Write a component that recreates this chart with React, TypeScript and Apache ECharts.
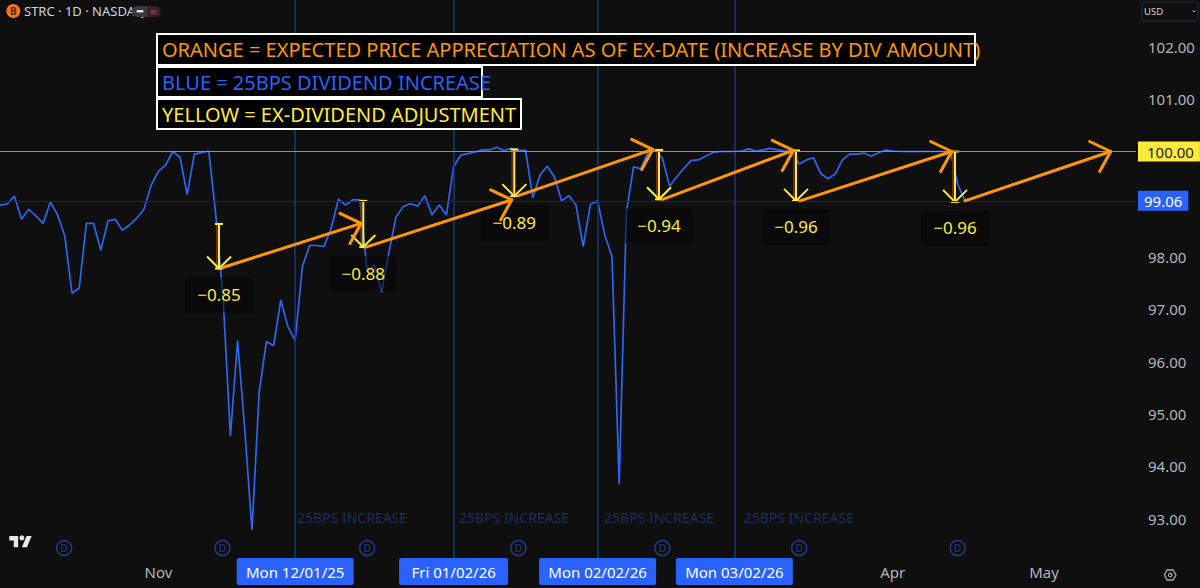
import React, { useEffect, useRef } from "react";
import * as echarts from "echarts";

const FONT = '"Noto Sans", sans-serif';

const priceValues = [
  98.98, 99.0, 99.15, 98.71, 98.9, 98.77, 98.63, 99.04, 98.79, 98.39,
  97.3, 97.4, 98.63, 98.63, 98.12, 98.68, 98.71, 98.5, 98.6, 98.73,
  98.9, 99.36, 99.62, 99.74, 100.0, 99.89, 99.18, 99.95, 99.98, 100.01,
  98.76, 97.17, 94.58, 96.4, 94.7, 92.79, 95.42, 96.38, 96.3, 97.17,
  96.66, 96.4, 97.81, 98.21, 98.21, 98.19, 98.54, 99.09, 98.98, 99.08,
  99.08, 97.71, 97.84, 97.32, 98.06, 98.75, 98.95, 99.01, 98.96, 99.16,
  98.79, 98.98, 98.79, 99.71, 99.93, 99.96, 99.99, 100.03, 100.03, 100.08,
  100.02, 100.06, 100.02, 100.02, 99.12, 99.55, 99.72, 99.52, 99.06, 99.16,
  98.98, 98.19, 98.99, 99.06, 98.41, 98.0, 93.66, 98.85, 99.71, 99.67,
  99.98, 100.04, 99.87, 99.34, 99.52, 99.68, 99.83, 99.84, 99.91, 99.98,
  100.0, 100.0, 100.0, 100.01, 100.05, 100.01, 100.03, 100.06, 100.03, 100.01,
  100.01, 99.76, 99.84, 99.88, 99.58, 99.48, 99.57, 99.84, 99.95, 99.95,
  99.97, 99.91, 99.97, 100.03, 100.01, 100.0, 100.0, 100.0, 100.0, 100.0,
  100.0, 100.0, 100.0, 99.39, 99.06,
];

const priceTicks = [102, 101, 99, 98, 97, 96, 95, 94, 93];
const timeTickIndex = [22, 41, 63, 83, 102, 124, 145];
const timeTickLabels = ["Nov", "Mon 12/01/25", "Fri 01/02/26", "Mon 02/02/26", "Mon 03/02/26", "Apr", "May"];
const increaseIndex = [41, 63, 83, 102];
const increaseNoteIndex = [41.25, 63.75, 83.9, 103.3];
const dividendIndex = [8.9, 30.9, 51, 72, 92, 111, 133];

const exIndex = [30.42, 50.46, 71.43, 91.53, 110.56, 132.64];
const exTop = [98.62, 99.06, 100.04, 100.03, 100.02, 100.0];
const exAmount = [0.85, 0.88, 0.89, 0.94, 0.96, 0.96];

const orangeStartIndex = [30.93, 50.83, 71.99, 92.04, 111.11, 134.03];
const orangeStartPrice = [97.79, 98.18, 99.16, 99.09, 99.06, 99.06];
const orangeEndIndex = [50.14, 71.07, 90.65, 110.18, 132.18, 154.26];
const orangeEndPrice = [98.63, 99.08, 100.04, 100.02, 100.0, 100.0];

const legendOrange = "ORANGE = EXPECTED PRICE APPRECIATION AS OF EX-DATE (INCREASE BY DIV AMOUNT)";
const legendBlue = "BLUE = 25BPS DIVIDEND INCREASE";
const legendYellow = "YELLOW = EX-DIVIDEND ADJUSTMENT";

const tvPath = "M14 22H7V11H0V4h14v18zM28 22h-8l7.5-18h8L28 22z";
echarts.graphic.registerShape("tvlogo", echarts.graphic.extendPath(tvPath, {}));

function legendBox(x: number, y: number, w: number, h: number, text: string, color: string) {
  return [
    { type: "rect", z: 50, shape: { x, y, width: w, height: h }, style: { fill: "#000", stroke: "#fff", lineWidth: 2 } },
    {
      type: "text", z: 51, x: x + 5, y: y + h / 2,
      style: { text, fill: color, font: `20px ${FONT}`, verticalAlign: "middle", align: "left" },
    },
  ];
}

export default function App() {
  const ref = useRef<HTMLDivElement>(null);
  useEffect(() => {
    document.body.style.margin = "0";
    document.body.style.background = "#0f0f0f";
    const chart = echarts.init(ref.current!, null, { renderer: "svg" });
    const yMin = 92.257;
    const yMax = 102.886;
    chart.setOption({
      animation: false,
      backgroundColor: "#0f0f0f",
      grid: { left: 0, top: 0, width: 1136, height: 558, containLabel: false },
      xAxis: {
        type: "value", min: 0, max: 157.78,
        axisLine: { show: false }, axisTick: { show: false }, splitLine: { show: false },
        axisLabel: {
          customValues: timeTickIndex,
          margin: 0,
          verticalAlign: "top",
          hideOverlap: false,
          fontFamily: FONT,
          formatter: (v: number) => {
            const t = timeTickLabels[timeTickIndex.indexOf(v)] ?? "";
            if (t.length <= 3) return `{m|${t}}`;
            return t.startsWith("Fri") ? `{f|${t}}` : `{h|${t}}`;
          },
          rich: {
            m: { color: "#b2b5be", fontSize: 15, fontFamily: FONT, height: 27, lineHeight: 27 },
            h: { color: "#fff", backgroundColor: "#2962ff", fontSize: 15, fontFamily: FONT, width: 117, height: 27, lineHeight: 27, align: "center", borderRadius: 2 },
            f: { color: "#fff", backgroundColor: "#2962ff", fontSize: 15, fontFamily: FONT, width: 109, height: 27, lineHeight: 27, align: "center", borderRadius: 2 },
          },
        },
      },
      yAxis: {
        type: "value", position: "right", min: yMin, max: yMax,
        axisLine: { show: false }, axisTick: { show: false }, splitLine: { show: false },
        axisLabel: {
          customValues: priceTicks, margin: 12, color: "#b2b5be", fontSize: 15, fontFamily: FONT,
          formatter: (v: number) => v.toFixed(2),
        },
      },
      series: [
        {
          type: "line", z: 3, symbol: "none", silent: true,
          data: priceValues.map((v, i) => [i, v]),
          lineStyle: { color: "#2e66f0", width: 1.7 },
          markLine: {
            silent: true, symbol: "none", animation: false,
            data: [
              ...increaseIndex.map((i) => ({
                xAxis: i, lineStyle: { color: "#1e3a7a", width: 1.5, type: "solid" }, label: { show: false },
              })),
              {
                yAxis: 99.06, lineStyle: { color: "#1a2747", width: 1, type: "solid" },
                label: {
                  show: true, position: "end", distance: 2, formatter: "99.06", color: "#fff", fontSize: 15,
                  fontFamily: FONT, backgroundColor: "#2962ff", padding: [3, 6, 2, 6],
                },
              },
              {
                yAxis: 100, lineStyle: { color: "#a19a32", width: 1, type: "solid" },
                label: {
                  show: true, position: "end", distance: 2, formatter: "100.00", color: "#131722", fontSize: 15,
                  fontFamily: FONT, backgroundColor: "#ffeb3b", padding: [3, 6, 2, 9],
                },
              },
            ],
          },
        },
        {
          type: "scatter", z: 2, silent: true, clip: false,
          data: dividendIndex.map((i) => [i, 92.447]),
          symbol: "circle", symbolSize: 15,
          itemStyle: { color: "rgba(0,0,0,0)", borderColor: "#2747a8", borderWidth: 1.5 },
          label: { show: true, position: "inside", formatter: "D", color: "#2747a8", fontSize: 10, fontFamily: FONT },
        },
        {
          type: "custom", z: 2, silent: true, clip: false,
          encode: { x: 0, y: 1 },
          data: increaseNoteIndex.map((i) => [i, 93.02]),
          renderItem: (_p: any, api: any) => {
            const c = api.coord([api.value(0), api.value(1)]);
            return {
              type: "text", x: c[0], y: c[1],
              style: { text: "25BPS INCREASE", fill: "#1e2d5c", font: `14px ${FONT}`, align: "left", verticalAlign: "middle" },
            };
          },
        },
        {
          type: "custom", z: 4, silent: true, clip: false,
          encode: { x: 0, y: 1 },
          data: exIndex.map((x, i) => [x, exTop[i], exAmount[i]]),
          renderItem: (_p: any, api: any) => {
            const x = api.value(0);
            const top = api.value(1);
            const amt = api.value(2);
            const a = api.coord([x, top]);
            const b = api.coord([x, top - amt]);
            const cx = a[0];
            const stroke = { stroke: "#ffeb3b", lineWidth: 2, fill: "none" };
            return {
              type: "group",
              children: [
                { type: "line", shape: { x1: cx - 2, y1: a[1], x2: cx - 2, y2: b[1] }, style: { stroke: "#6b2a20", lineWidth: 2 } },
                { type: "line", shape: { x1: cx, y1: a[1], x2: cx, y2: b[1] }, style: stroke },
                { type: "line", shape: { x1: cx - 4, y1: a[1], x2: cx + 4, y2: a[1] }, style: stroke },
                { type: "polyline", shape: { points: [[cx - 12, b[1] - 12], [cx, b[1]], [cx + 12, b[1] - 12]] }, style: stroke },
                { type: "line", shape: { x1: cx - 4, y1: b[1], x2: cx + 4, y2: b[1] }, style: stroke },
                { type: "rect", shape: { x: cx - 34, y: b[1] + 9, width: 68, height: 35 }, style: { fill: "rgba(6,6,6,0.55)" } },
                {
                  type: "text", x: cx, y: b[1] + 26,
                  style: { text: `\u2212${amt.toFixed(2)}`, fill: "#ffeb3b", font: `17px ${FONT}`, align: "center", verticalAlign: "middle" },
                },
              ],
            };
          },
        },
        {
          type: "custom", z: 5, silent: true, clip: false,
          encode: { x: [0, 2], y: [1, 3] },
          data: orangeStartIndex.map((x, i) => [x, orangeStartPrice[i], orangeEndIndex[i], orangeEndPrice[i]]),
          renderItem: (_p: any, api: any) => {
            const s = api.coord([api.value(0), api.value(1)]);
            const e = api.coord([api.value(2), api.value(3)]);
            const style = { stroke: "#ff9800", lineWidth: 3, fill: "none", lineCap: "round", lineJoin: "round" };
            return {
              type: "group",
              children: [
                { type: "line", shape: { x1: s[0], y1: s[1], x2: e[0], y2: e[1] }, style },
                { type: "polyline", shape: { points: [[e[0] - 21, e[1] - 10], [e[0], e[1]], [e[0] - 11, e[1] + 20]] }, style },
              ],
            };
          },
        },
      ],
      graphic: [
        ...legendBox(157, 34, 818, 31, legendOrange, "#ff9800"),
        ...legendBox(157, 67, 325, 30, legendBlue, "#2962ff"),
        ...legendBox(157, 99, 364, 30, legendYellow, "#ffeb3b"),
        { type: "circle", shape: { cx: 13.3, cy: 11, r: 7 }, style: { fill: "#f7741a" } },
        { type: "text", x: 13.3, y: 11, style: { text: "B", fill: "#5a2506", font: `bold 10px ${FONT}`, align: "center", verticalAlign: "middle" } },
        { type: "text", x: 24, y: 11, style: { text: "STRC · 1D · NASDAQ", fill: "#d1d4dc", font: `13px ${FONT}`, verticalAlign: "middle" } },
        { type: "rect", shape: { x: 132, y: 6, width: 15, height: 11, r: [5.5, 0, 0, 5.5] }, style: { fill: "#3a3a3d" } },
        { type: "rect", shape: { x: 147, y: 6, width: 14, height: 11, r: [0, 5.5, 5.5, 0] }, style: { fill: "#35202c" } },
        { type: "rect", shape: { x: 136.5, y: 10, width: 7, height: 2.4, r: 1 }, style: { fill: "#e0e0e0" } },
        { type: "text", x: 153, y: 11, style: { text: "≈", fill: "#e91e63", font: `bold 11px ${FONT}`, align: "center", verticalAlign: "middle" } },
        { type: "rect", shape: { x: 1142, y: 2, width: 56, height: 19, r: 3 }, style: { fill: "none", stroke: "#2a2e39", lineWidth: 1 } },
        { type: "text", x: 1144, y: 11.5, style: { text: "USD", fill: "#d1d4dc", font: `9.5px ${FONT}`, verticalAlign: "middle" } },
        { type: "polyline", shape: { points: [[1192.5, 10.5], [1194, 12], [1195.5, 10.5]] }, style: { stroke: "#b2b5be", lineWidth: 1, fill: "none" } },
        { type: "tvlogo", x: 9.3, y: 533.5, scaleX: 0.63, scaleY: 0.63, style: { fill: "#e8e8e8" } },
        { type: "circle", shape: { cx: 21.9, cy: 537.9, r: 2.5 }, style: { fill: "#e8e8e8" } },
        {
          type: "polygon",
          shape: { points: [[1176, 575], [1173, 580], [1167, 580], [1164.5, 575], [1167, 570], [1173, 570]] },
          style: { fill: "none", stroke: "#a8a8a8", lineWidth: 1.3 },
        },
        { type: "circle", shape: { cx: 1170.3, cy: 575, r: 1.8 }, style: { fill: "none", stroke: "#a8a8a8", lineWidth: 1.2 } },
      ],
    });
    return () => chart.dispose();
  }, []);
  return <div ref={ref} style={{ width: 1200, height: 588 }} />;
}
